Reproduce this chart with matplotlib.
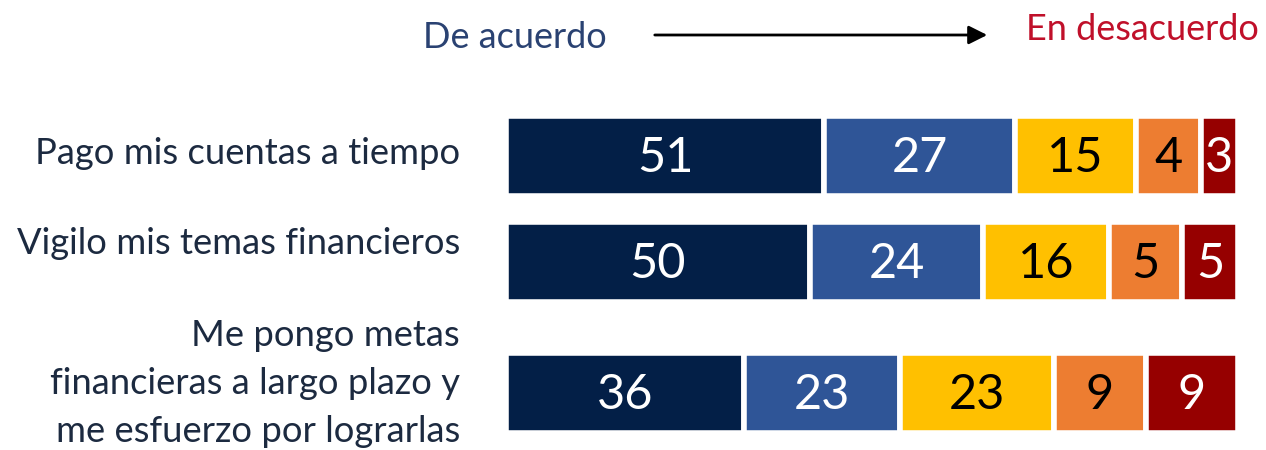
import matplotlib
matplotlib.use("Agg")
import matplotlib.pyplot as plt
from matplotlib.patches import FancyArrowPatch

categories = ["Pago mis cuentas a tiempo",
              "Vigilo mis temas financieros",
              "Me pongo metas\nfinancieras a largo plazo y\nme esfuerzo por lograrlas"]
series_names = ["Muy de acuerdo", "De acuerdo", "Neutral", "En desacuerdo", "Muy en desacuerdo"]
# printed percentages (labels)
values = [
    [51, 50, 36],
    [27, 24, 23],
    [15, 16, 23],
    [4, 5, 9],
    [3, 5, 9],
]
# bar lengths as drawn in the picture (share of row length, %)
bar_lengths = [
    [43.5, 41.5, 32.5],
    [26.0, 23.7, 21.3],
    [16.5, 17.2, 21.1],
    [8.9, 10.0, 12.5],
    [5.1, 7.6, 12.6],
]
colors = ["#031F47", "#2F5597", "#FFC000", "#ED7D31", "#960000"]
text_colors = ["white", "white", "black", "black", "white"]

W, H = 1266, 450
fig = plt.figure(figsize=(W / 100, H / 100), dpi=100)
fam = ["Lato", "DejaVu Sans"]

ax = fig.add_axes([506 / W, 0, 732 / W, 1])
ax.set_xlim(0, 100)
ax.set_ylim(H, 0)
ax.axis("off")

ypos = [156, 262, 393]
label_y = [[154], [244], [336, 384, 432]]
left = [0, 0, 0]
for s, (vals, lens) in enumerate(zip(values, bar_lengths)):
    ax.barh(ypos, lens, left=left, height=80, color=colors[s],
            edgecolor="white", linewidth=4)
    for i, (v, L) in enumerate(zip(vals, lens)):
        ax.text(left[i] + L / 2, ypos[i] + 2, str(v), ha="center", va="center",
                color=text_colors[s], fontsize=35, family=fam)
    left = [l + L for l, L in zip(left, lens)]

for cat, ys in zip(categories, label_y):
    for line, y in zip(cat.split("\n"), ys):
        fig.text(460 / W, 1 - y / H, line, ha="right", va="center",
                 fontsize=26.2, family=fam, color="#1C2A40")

fig.text(423 / W, 1 - 37 / H, "De acuerdo", ha="left", va="center",
         fontsize=26, family=fam, color="#2A4272")
fig.text(1259 / W, 1 - 29 / H, "En desacuerdo", ha="right", va="center",
         fontsize=26, family=fam, color="#C0102A")
fig.add_artist(FancyArrowPatch(
    (652 / W, 1 - 35 / H), (990 / W, 1 - 35 / H), transform=fig.transFigure,
    arrowstyle="-|>,head_length=0.8,head_width=0.4", mutation_scale=14,
    color="black", linewidth=2))

fig.savefig("out.png", dpi=100)
